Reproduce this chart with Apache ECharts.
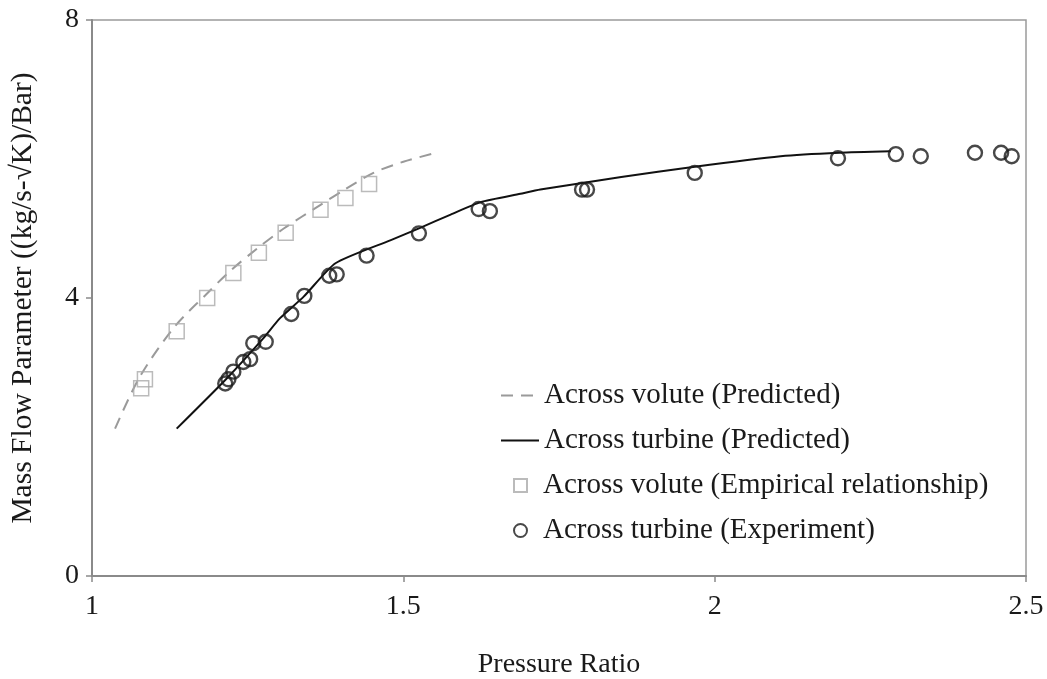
<!DOCTYPE html>
<html>
<head>
<meta charset="utf-8">
<script src="https://cdn.jsdelivr.net/npm/echarts@6/dist/echarts.min.js"></script>
<style>
html,body{margin:0;padding:0;background:#fff;}
#chart{width:1047px;height:679px;}
</style>
</head>
<body>
<div id="chart"></div>
<script>
// Pressure ratio / mass flow parameter data
const voluteLineX = [1.037, 1.077, 1.133, 1.182, 1.222, 1.265, 1.308, 1.367, 1.404, 1.452, 1.50, 1.557];
const voluteLineY = [2.12, 2.87, 3.59, 4.04, 4.39, 4.71, 5.00, 5.34, 5.55, 5.80, 5.96, 6.10];

const turbineLineX = [1.136, 1.214, 1.275, 1.302, 1.340, 1.391, 1.479, 1.527, 1.576, 1.624, 1.688, 1.720, 1.85, 1.968, 2.106, 2.20, 2.283];
const turbineLineY = [2.12, 2.82, 3.42, 3.71, 4.02, 4.50, 4.83, 5.01, 5.20, 5.38, 5.50, 5.56, 5.74, 5.89, 6.04, 6.09, 6.11];

const voluteEmpX = [1.079, 1.085, 1.136, 1.185, 1.227, 1.268, 1.311, 1.367, 1.407, 1.445];
const voluteEmpY = [2.70, 2.83, 3.52, 4.00, 4.36, 4.65, 4.94, 5.27, 5.44, 5.64];

const turbineExpX = [1.214, 1.219, 1.227, 1.243, 1.254, 1.259, 1.279, 1.320, 1.341, 1.381, 1.393, 1.441, 1.525, 1.621, 1.639, 1.787, 1.795, 1.968, 2.198, 2.291, 2.331, 2.418, 2.460, 2.477];
const turbineExpY = [2.77, 2.83, 2.94, 3.08, 3.12, 3.35, 3.37, 3.77, 4.03, 4.32, 4.34, 4.61, 4.93, 5.28, 5.25, 5.56, 5.56, 5.80, 6.01, 6.07, 6.04, 6.09, 6.09, 6.04];

const seriesNames = [
  'Across volute (Predicted)',
  'Across turbine (Predicted)',
  'Across volute (Empirical relationship)',
  'Across turbine (Experiment)'
];
const xTicks = [1, 1.5, 2, 2.5];
const yTicks = [0, 4, 8];

const pairs = (xs, ys) => xs.map((x, i) => [x, ys[i]]);
const font = 'Liberation Serif, Times New Roman, serif';
const txt = '#1a1a1a';

const chart = echarts.init(document.getElementById('chart'), null, {renderer: 'canvas'});
chart.setOption({
  animation: false,
  backgroundColor: '#fff',
  grid: {
    left: 92, right: 21, top: 20, bottom: 103,
    show: true, borderColor: '#9a9a9a', borderWidth: 1.5,
    containLabel: false, outerBoundsMode: 'none'
  },
  xAxis: {
    type: 'value',
    min: xTicks[0], max: xTicks[xTicks.length - 1], interval: 0.5,
    name: 'Pressure Ratio',
    nameLocation: 'middle', nameGap: 75,
    nameTextStyle: {fontFamily: font, fontSize: 28, color: txt},
    axisLine: {show: true, lineStyle: {color: '#8a8a8a', width: 2}},
    axisTick: {show: true, inside: false, length: 6, lineStyle: {color: '#8a8a8a', width: 1.5}},
    axisLabel: {fontFamily: font, fontSize: 28, color: txt, margin: 17,
      formatter: v => String(v)},
    splitLine: {show: false}
  },
  yAxis: {
    type: 'value',
    min: yTicks[0], max: yTicks[yTicks.length - 1], interval: 4,
    name: 'Mass Flow Parameter ((kg/s-\u221AK)/Bar)',
    nameLocation: 'middle', nameGap: 54, nameRotate: 90,
    nameTextStyle: {fontFamily: font, fontSize: 29.5, color: txt},
    axisLine: {show: true, lineStyle: {color: '#8a8a8a', width: 2}},
    axisTick: {show: true, inside: false, length: 6, lineStyle: {color: '#8a8a8a', width: 1.5}},
    axisLabel: {fontFamily: font, fontSize: 28, color: txt, margin: 13},
    splitLine: {show: false}
  },
  legend: [
    {
      orient: 'vertical',
      left: 500, top: 381, padding: 0,
      itemWidth: 38, itemHeight: 14, itemGap: 16,
      textStyle: {fontFamily: font, fontSize: 29, color: txt},
      data: [
        {name: seriesNames[0], itemStyle: {opacity: 0}},
        {name: seriesNames[1], itemStyle: {opacity: 0}}
      ]
    },
    {
      orient: 'vertical',
      left: 513, top: 471, padding: 0,
      itemWidth: 13, itemHeight: 13, itemGap: 16,
      textStyle: {fontFamily: font, fontSize: 29, color: txt, padding: [0, 0, 0, 11]},
      data: [
        {name: seriesNames[2], icon: 'rect'},
        {name: seriesNames[3], icon: 'circle'}
      ]
    }
  ],
  series: [
    {
      name: seriesNames[0], type: 'line', data: pairs(voluteLineX, voluteLineY),
      smooth: 0.3, symbol: 'none',
      lineStyle: {color: '#9a9a9a', width: 2, type: [12, 8]},
      itemStyle: {color: '#9a9a9a'}, z: 2
    },
    {
      name: seriesNames[1], type: 'line', data: pairs(turbineLineX, turbineLineY),
      smooth: 0.2, symbol: 'none',
      lineStyle: {color: '#111', width: 2},
      itemStyle: {color: '#111'}, z: 2
    },
    {
      name: seriesNames[2], type: 'scatter', data: pairs(voluteEmpX, voluteEmpY),
      symbol: 'rect', symbolSize: 15,
      itemStyle: {color: 'rgba(255,255,255,0)', borderColor: '#aaaaaa', borderWidth: 1.5},
      z: 3
    },
    {
      name: seriesNames[3], type: 'scatter', data: pairs(turbineExpX, turbineExpY),
      symbol: 'circle', symbolSize: 14,
      itemStyle: {color: 'rgba(255,255,255,0)', borderColor: '#1a1a1a', borderWidth: 2.4},
      z: 4
    }
  ]
});
</script>
</body>
</html>
